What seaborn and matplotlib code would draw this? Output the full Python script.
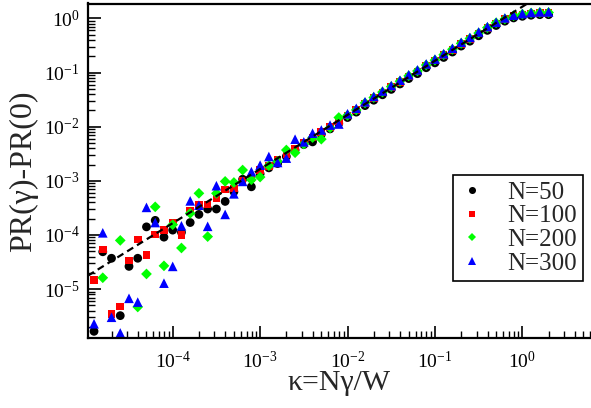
import matplotlib
matplotlib.use("Agg")
import matplotlib.pyplot as plt
import matplotlib.ticker as mticker
import numpy as np
import pandas as pd
import seaborn as sns

# ---------------------------------------------------------------------------
# Data (stored as log10 values)
# ---------------------------------------------------------------------------
log_kappa = [-4.9, -4.8, -4.7, -4.6, -4.5, -4.4, -4.3, -4.2, -4.1, -4.0,
             -3.9, -3.8, -3.7, -3.6, -3.5, -3.4, -3.3, -3.2, -3.1, -3.0,
             -2.9, -2.8, -2.7, -2.6, -2.5, -2.4, -2.3, -2.2, -2.1, -2.0,
             -1.9, -1.8, -1.7, -1.6, -1.5, -1.4, -1.3, -1.2, -1.1, -1.0,
             -0.9, -0.8, -0.7, -0.6, -0.5, -0.4, -0.3, -0.2, -0.1, 0.0,
             0.1, 0.2, 0.3]

log_pr_n50 = [-5.78, -4.31, -4.43, -5.49, -4.58, -4.43, -3.85, -3.73, -4.04, -3.91,
              -3.95, -3.77, -3.62, -3.52, -3.52, -3.38, -3.20, -2.97, -3.11, -2.87,
              -2.76, -2.68, -2.55, -2.43, -2.33, -2.28, -2.14, -2.04, -1.94, -1.83,
              -1.73, -1.61, -1.51, -1.41, -1.31, -1.21, -1.11, -1.02, -0.91, -0.82,
              -0.72, -0.62, -0.51, -0.42, -0.32, -0.22, -0.13, -0.05, 0.01, 0.04,
              0.06, 0.07, 0.07]

log_pr_n100 = [-4.83, -4.27, -5.46, -5.32, -4.47, -4.08, -4.37, -3.99, -3.91, -3.77,
               -4.00, -3.55, -3.44, -3.44, -3.32, -3.16, -3.14, -3.00, -2.95, -2.80,
               -2.72, -2.61, -2.50, -2.40, -2.30, -2.20, -2.10, -2.00, -1.90, -1.79,
               -1.69, -1.57, -1.47, -1.37, -1.27, -1.17, -1.07, -0.98, -0.87, -0.78,
               -0.68, -0.58, -0.47, -0.38, -0.28, -0.18, -0.09, -0.01, 0.04, 0.07,
               0.09, 0.10, 0.10]

log_pr_n200 = [np.nan, -4.79, np.nan, -4.10, np.nan, -5.33, -4.72, -3.48, -4.57, -3.81,
               -4.24, -3.60, -3.23, -4.03, -3.23, -3.01, -3.03, -2.80, -2.98, -2.93,
               -2.72, -2.64, -2.43, -2.48, -2.32, -2.20, -2.23, -2.02, -1.83, -1.79,
               -1.69, -1.56, -1.46, -1.36, -1.26, -1.16, -1.06, -0.97, -0.86, -0.77,
               -0.67, -0.57, -0.46, -0.37, -0.27, -0.17, -0.08, -0.01, 0.05, 0.08,
               0.10, 0.11, 0.11]

log_pr_n300 = [-5.64, -3.96, -5.52, -5.81, -5.17, -5.24, -3.49, -3.77, -4.89, -4.58,
               -3.83, -3.37, -3.45, -3.84, -3.09, -3.62, -3.24, -3.01, -2.83, -2.71,
               -2.55, -2.66, -2.58, -2.23, -2.28, -2.12, -2.06, -1.97, -1.95, -1.76,
               -1.66, -1.54, -1.44, -1.34, -1.24, -1.14, -1.04, -0.95, -0.84, -0.75,
               -0.65, -0.55, -0.44, -0.35, -0.25, -0.15, -0.07, 0.01, 0.06, 0.09,
               0.11, 0.12, 0.12]

# linear guide line PR ~ kappa
fit_kappa = [1.07e-5, 1.15]
fit_pr = [1.77e-5, 1.90]

# labelled decades on each axis
x_decades = [1e-4, 1e-3, 1e-2, 1e-1, 1e0]
y_decades = [1e-5, 1e-4, 1e-3, 1e-2, 1e-1, 1e0]

series_labels = ["N=50", "N=100", "N=200", "N=300"]
series_colors = ["#000000", "#ff0000", "#00ff00", "#0000ff"]
series_markers = ["o", "s", "D", "^"]
series_sizes = [40, 30, 30, 48]

# ---------------------------------------------------------------------------
# Long-form table
# ---------------------------------------------------------------------------
frames = []
for label, vals in zip(series_labels, [log_pr_n50, log_pr_n100, log_pr_n200, log_pr_n300]):
    frames.append(pd.DataFrame({
        "kappa": 10.0 ** np.array(log_kappa),
        "pr": 10.0 ** np.array(vals),
        "series": label,
    }))
df = pd.concat(frames, ignore_index=True).dropna()

# ---------------------------------------------------------------------------
# Style
# ---------------------------------------------------------------------------
sns.set_style("ticks")
plt.rcParams.update({
    "font.family": ["Liberation Serif", "DejaVu Serif"],
    "mathtext.fontset": "custom",
    "mathtext.rm": "Liberation Serif",
    "mathtext.it": "Liberation Serif:italic",
    "mathtext.bf": "Liberation Serif:bold",
    "axes.unicode_minus": False,
})

fig = plt.figure(figsize=(5.91, 4.08), dpi=100)
ax = fig.add_axes([88 / 591, 70 / 408, 503 / 591, 334.5 / 408])
ax.set_xscale("log")
ax.set_yscale("log")

sns.scatterplot(
    data=df, x="kappa", y="pr",
    hue="series", style="series", size="series",
    hue_order=series_labels, style_order=series_labels, size_order=series_labels,
    palette=dict(zip(series_labels, series_colors)),
    markers=dict(zip(series_labels, series_markers)),
    sizes=dict(zip(series_labels, series_sizes)),
    linewidth=0, ax=ax, zorder=2,
)
ax.plot(fit_kappa, fit_pr, color="black", lw=1.6, ls=(0, (3.2, 2.0)), zorder=3)

ax.set_xlim(1.074e-5, 6.1)
ax.set_ylim(1.25e-6, 1.89)

ax.xaxis.set_major_locator(mticker.FixedLocator(x_decades))
ax.yaxis.set_major_locator(mticker.FixedLocator(y_decades))
ax.xaxis.set_major_formatter(mticker.LogFormatterSciNotation())
ax.yaxis.set_major_formatter(mticker.LogFormatterSciNotation())
ax.xaxis.set_minor_locator(mticker.LogLocator(base=10, subs=np.arange(2, 10), numticks=20))
ax.yaxis.set_minor_locator(mticker.LogLocator(base=10, subs=np.arange(2, 10), numticks=20))
ax.xaxis.set_minor_formatter(mticker.NullFormatter())
ax.yaxis.set_minor_formatter(mticker.NullFormatter())

ax.tick_params(which="both", direction="in", top=False, right=False, colors="black")
ax.tick_params(which="major", length=9, width=1.2, labelsize=14)
ax.tick_params(which="minor", length=5, width=1.0)
ax.tick_params(axis="x", which="major", pad=9)
ax.tick_params(axis="y", which="major", pad=6)

for side in ["left", "bottom", "top"]:
    ax.spines[side].set_linewidth(1.6)
    ax.spines[side].set_color("black")
ax.spines["right"].set_visible(False)

ax.set_xlabel("κ=Nγ/W", fontsize=21.5)
ax.set_ylabel("PR(γ)-PR(0)", fontsize=23)
ax.xaxis.set_label_coords(0.5, -0.0957)
ax.xaxis.label.set_va("top")
ax.yaxis.set_label_coords(-0.129, 0.5)
ax.yaxis.label.set_va("center")

sns.move_legend(
    ax, "upper left", bbox_to_anchor=(0.7257, 0.4873), title=None,
    frameon=True, fancybox=False, framealpha=1, edgecolor="black",
    fontsize=18, borderaxespad=0, borderpad=0.25, labelspacing=0.05,
    handlelength=1.0, handletextpad=0.9, markerscale=0.8,
)
ax.get_legend().get_frame().set_linewidth(1.2)

fig.savefig("out.png", dpi=100)
